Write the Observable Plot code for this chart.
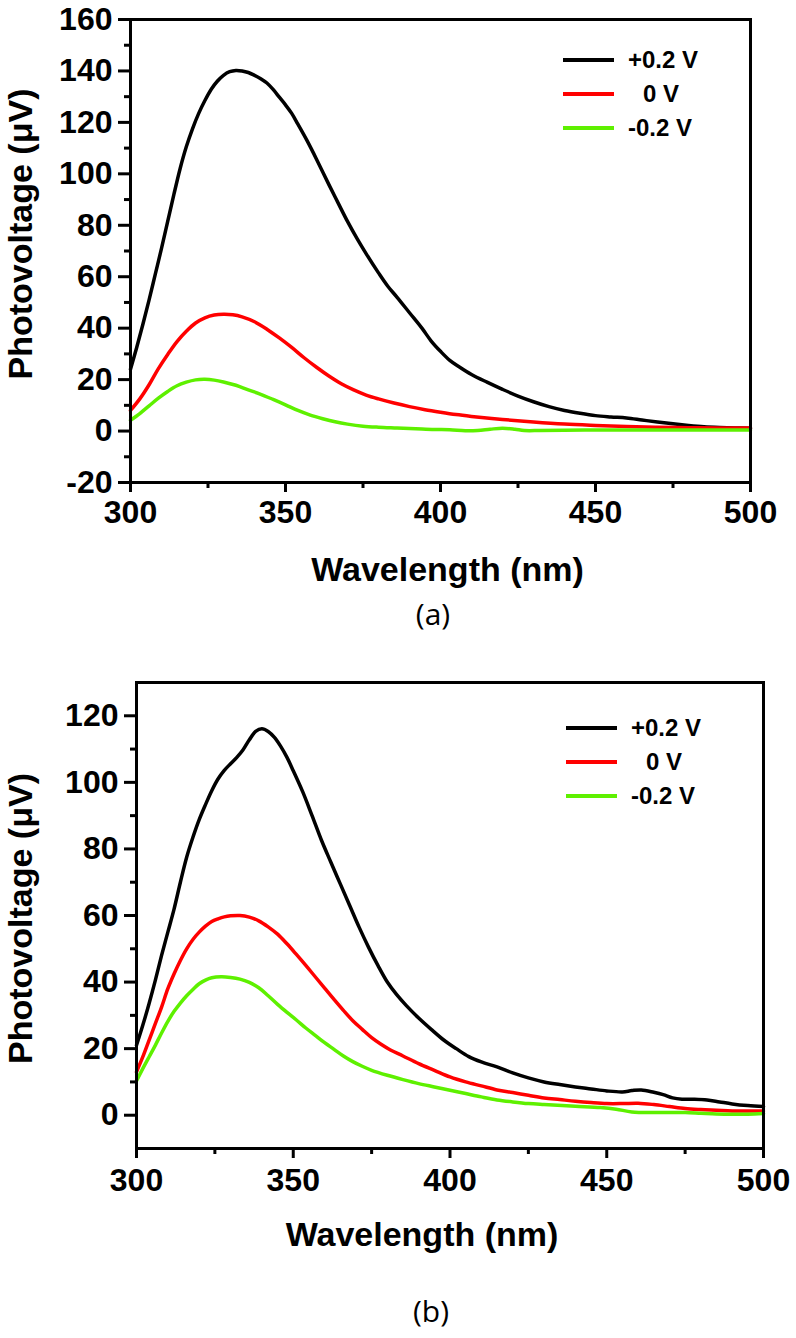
<!DOCTYPE html>
<html>
<head>
<meta charset="utf-8">
<script src="https://cdn.jsdelivr.net/npm/d3@7"></script>
<script src="https://cdn.jsdelivr.net/npm/@observablehq/plot@0.6"></script>
<style>
  body { margin: 0; background: #fff; }
  #root { position: relative; width: 796px; height: 1338px; overflow: hidden; background: #fff;
          font-family: "Liberation Sans", Arial, sans-serif; }
  #root svg { position: absolute; left: 0; overflow: visible; }
  .cap { position: absolute; font-family: "Open Sans", sans-serif; font-size: 30px; line-height: 1;
         transform: translate(-50%, -50%); color: #000; }
  .legrow { position: absolute; height: 34px; display: flex; align-items: center;
            font-weight: bold; font-size: 24px; color: #000; white-space: pre; }
  .legline { width: 51px; height: 4px; margin-right: 14px; }
</style>
</head>
<body>
<div id="root"></div>
<script>
// ---------- data ----------
const seriesLabels = ["+0.2 V", "0 V", "-0.2 V"];
const seriesColors = ["#000000", "#ff0000", "#5ef000"];

const xMajorTicks = [300, 350, 400, 450, 500];
const xMinorTicks = [325, 375, 425, 475];
const yMajorTicksA = [-20, 0, 20, 40, 60, 80, 100, 120, 140, 160];
const yMinorTicksA = [-10, 10, 30, 50, 70, 90, 110, 130, 150];
const yMajorTicksB = [0, 20, 40, 60, 80, 100, 120];
const yMinorTicksB = [10, 30, 50, 70, 90, 110];

// panel (a): [wavelength nm, photovoltage µV]
const aPlus = [[300,24],[302,32.5],[304,41.5],[306,51],[308,61],[310,71],[312,81.5],[314,92],[316,102],
  [318,110.5],[320,117.5],[322,123.5],[324,128.5],[326,132.8],[328,136],[330,138.3],[332,139.7],[334,140.2],
  [336,140],[338,139.4],[340,138.3],[342,137],[344,135.3],[346,132.8],[348,129.8],[350,126.8],[352,123.5],
  [354,119.3],[357,112.8],[360,105.7],[364,95.8],[367,88.6],[370,81.5],[373,75],[376,69],[380,61.5],
  [383,56.3],[386,52],[390,46],[394,40],[397,35],[400,31],[403,27.5],[406,25],[410,22],[415,19],[420,16.2],
  [425,13.6],[430,11.4],[435,9.5],[440,8],[445,6.9],[450,6],[455,5.5],[460,5.1],[465,4.3],[470,3.5],
  [475,2.8],[480,2.2],[485,1.7],[490,1.4],[495,1.2],[500,1.1]];
const aZero = [[300,8],[303,12.5],[306,18],[309,24.3],[312,29.8],[315,34.8],[318,38.8],[321,42],[324,44],
  [327,45.1],[330,45.4],[333,45.2],[336,44.4],[340,42.5],[344,39.6],[348,36.2],[352,32.5],[356,28.5],
  [360,24.8],[364,21.4],[368,18.4],[372,16],[376,14],[380,12.5],[385,10.9],[390,9.5],[395,8.3],[400,7.3],
  [405,6.4],[410,5.7],[420,4.5],[430,3.5],[440,2.7],[450,2.2],[460,1.8],[470,1.5],[480,1.3],[490,1.2],[500,1.2]];
const aMinus = [[300,4.2],[303,6.8],[306,9.8],[309,12.8],[312,15.4],[315,17.6],[318,19],[321,19.9],[324,20.1],
  [327,19.8],[330,19.1],[334,17.8],[338,16],[342,14.3],[346,12.3],[350,10.2],[354,8],[358,6.2],[362,4.8],
  [366,3.6],[370,2.7],[375,1.9],[380,1.5],[386,1.2],[392,0.9],[398,0.6],[403,0.5],[408,0.1],[412,0.2],
  [416,0.7],[420,1.1],[424,0.7],[427,0.2],[432,0.2],[440,0.3],[450,0.4],[460,0.4],[470,0.4],[480,0.4],
  [490,0.4],[500,0.4]];

// panel (b)
const bPlus = [[300,21],[302,27],[304,33.5],[306,40.5],[308,48],[310,55],[312,62],[314,70],[316,77.5],[318,83.5],
  [320,88.8],[322,93.3],[324,97.5],[326,101],[328,103.6],[330,105.6],[332,107.5],[334,109.8],[336,112.8],[338,115.3],
  [340,116.1],[342,115.3],[344,113.5],[346,110.8],[348,107.5],[350,103.5],[353,97.2],[356,90],[359,82.6],
  [362,76],[365,69.5],[368,63],[371,56.5],[374,50.5],[377,45],[380,40],[383,36.2],[386,33],[390,29.2],
  [394,25.8],[398,22.6],[402,20],[406,17.6],[410,16],[415,14.5],[420,12.7],[425,11.2],[430,10],[435,9.2],
  [440,8.5],[445,7.9],[450,7.3],[455,7],[458,7.4],[461,7.6],[465,6.9],[468,6.2],[471,5.2],[474,4.8],
  [478,4.8],[482,4.6],[486,4],[490,3.4],[495,2.9],[500,2.6]];
const bZero = [[300,13],[302,17.5],[304,22.5],[306,27.5],[308,32.5],[310,38],[312,42.5],[314,46.5],[316,50],
  [318,52.8],[320,55],[322,56.8],[324,58.2],[326,59],[328,59.6],[330,59.9],[333,60],[336,59.5],[339,58.4],
  [342,56.6],[345,54.4],[348,51.5],[351,48.3],[354,45],[357,41.6],[360,38.2],[363,34.8],[366,31.5],
  [369,28.4],[372,25.8],[375,23.3],[378,21.3],[381,19.6],[385,17.8],[390,15.5],[395,13.5],[400,11.5],
  [405,10],[410,8.8],[415,7.6],[420,6.8],[425,6],[430,5.2],[435,4.7],[440,4.2],[445,3.8],[450,3.5],
  [455,3.5],[460,3.6],[465,3.2],[470,2.6],[475,2],[480,1.7],[485,1.5],[490,1.3],[495,1.3],[500,1.3]];
const bMinus = [[300,10.3],[302,14],[304,17.5],[306,21],[308,24.7],[310,28.2],[312,31.2],[314,33.7],[316,35.9],
  [318,37.8],[320,39.5],[322,40.6],[324,41.3],[327,41.6],[330,41.4],[333,40.9],[336,39.9],[339,38.3],[342,35.9],
  [345,33.3],[348,30.9],[351,28.6],[354,26.2],[357,24],[360,21.8],[363,19.8],[366,17.8],[369,16.1],[372,14.7],
  [375,13.5],[380,12],[385,10.7],[390,9.5],[395,8.5],[400,7.5],[405,6.5],[410,5.5],[415,4.6],[420,4],
  [425,3.5],[430,3.2],[440,2.7],[448,2.3],[453,1.8],[458,1],[465,0.8],[470,0.8],[475,0.8],[480,0.6],
  [485,0.4],[490,0.3],[495,0.3],[500,0.5]];

const xTitle = "Wavelength (nm)";
const yTitle = "Photovoltage (\u03BCV)";
const captions = ["(a)", "(b)"];

// ---------- build ----------
function toRows(list) {
  return list.flatMap((arr, i) => arr.map(([w, v]) => ({ w, v, s: seriesLabels[i] })));
}

const FONT = "'Liberation Sans', Arial, Helvetica, sans-serif";

function panel(rows, cfg) {
  return Plot.plot({
    width: 796,
    height: cfg.height,
    marginLeft: cfg.ml, marginRight: cfg.mr, marginTop: cfg.mt, marginBottom: cfg.mb,
    x: { domain: [300, 500] },
    y: { domain: cfg.yDomain },
    color: { domain: seriesLabels, range: seriesColors },
    style: { fontFamily: FONT, fontWeight: "bold", fontSize: "32px", color: "#000", background: "transparent", overflow: "visible" },
    marks: [
      Plot.line(rows, { x: "w", y: "v", stroke: "s", z: "s", strokeWidth: 3.5, curve: "catmull-rom" }),
      Plot.frame({ stroke: "#000", strokeWidth: 3 }),
      Plot.axisX(xMajorTicks, { tickSize: 10, tickPadding: cfg.xPad, strokeWidth: 3, label: null, tickFormat: d => String(d) }),
      Plot.axisX(xMinorTicks, { tickSize: 6, strokeWidth: 3, label: null, tickFormat: () => "" }),
      Plot.axisY(cfg.yMajor, { tickSize: 12, tickPadding: 6, strokeWidth: 3, label: null, tickFormat: d => String(d) }),
      Plot.axisY(cfg.yMinor, { tickSize: 6, strokeWidth: 3, label: null, tickFormat: () => "" }),
      Plot.text([xTitle], { text: d => d, frameAnchor: "bottom", dx: cfg.xtDx, dy: cfg.xtDy, fontSize: 34, fontWeight: "bold", textAnchor: "middle", lineAnchor: "middle" }),
      Plot.text([yTitle], { text: d => d, frameAnchor: "left", dx: cfg.ytDx, dy: cfg.ytDy, rotate: -90, fontSize: 34, fontWeight: "bold", textAnchor: "middle", lineAnchor: "middle" })
    ]
  });
}

const root = document.getElementById("root");

const svgA = panel(toRows([aPlus, aZero, aMinus]), {
  height: 600, ml: 130, mr: 46, mt: 19, mb: 118, yDomain: [-20, 160],
  yMajor: yMajorTicksA, yMinor: yMinorTicksA, xPad: 8,
  xtDx: 7, xtDy: 88, ytDx: -109, ytDy: -17
});
svgA.style.top = "0px";
root.appendChild(svgA);

const svgB = panel(toRows([bPlus, bZero, bMinus]), {
  height: 640, ml: 136, mr: 33, mt: 42, mb: 132, yDomain: [-10, 130],
  yMajor: yMajorTicksB, yMinor: yMinorTicksB, xPad: 10,
  xtDx: -28, xtDy: 87, ytDx: -115, ytDy: 3
});
svgB.style.top = "640px";
root.appendChild(svgB);

// legends
function legend(left, top0) {
  seriesLabels.forEach((lab, i) => {
    const row = document.createElement("div");
    row.className = "legrow";
    row.style.left = left + "px";
    row.style.top = (top0 + i * 34 - 17) + "px";
    const ln = document.createElement("div");
    ln.className = "legline";
    ln.style.background = seriesColors[i];
    const tx = document.createElement("span");
    tx.textContent = lab;
    if (lab === "0 V") tx.style.paddingLeft = "15px";
    row.appendChild(ln);
    row.appendChild(tx);
    root.appendChild(row);
  });
}
legend(563, 60);
legend(566, 728);

// captions
[[captions[0], 433, 614], [captions[1], 431, 1311]].forEach(([t, x, y]) => {
  const d = document.createElement("div");
  d.className = "cap";
  d.textContent = t;
  d.style.left = x + "px";
  d.style.top = y + "px";
  root.appendChild(d);
});
</script>
</body>
</html>
